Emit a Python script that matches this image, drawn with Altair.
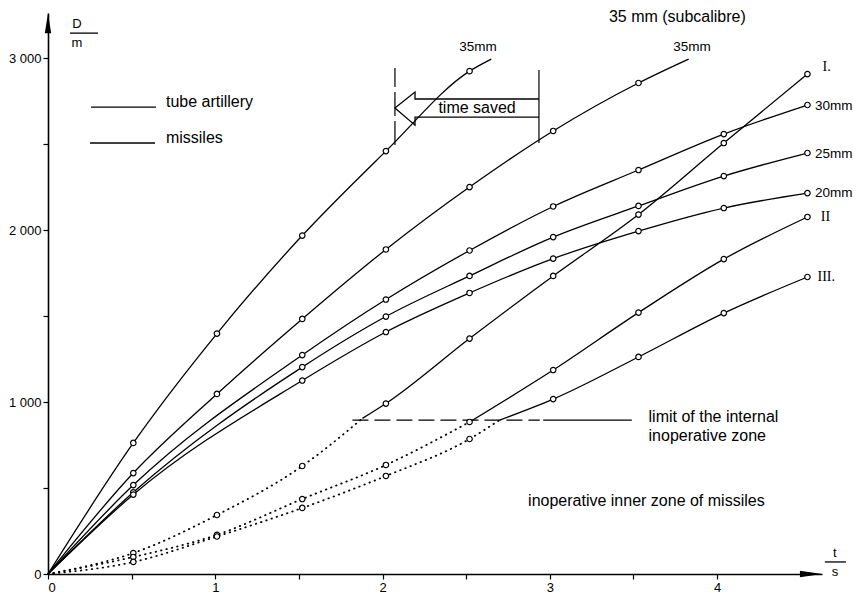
import altair as alt
import pandas as pd

FONT = "Liberation Sans"
SERIF = "Liberation Serif"

# ---------------- data ----------------
# tube artillery (t in s, D in m); marker 1 = drawn circle
T_S35 = [0, 0.51, 1.01, 1.52, 2.02, 2.52, 2.65]
D_S35 = [0, 762, 1398, 1968, 2459, 2924, 2994]
M_S35 = [0, 1, 1, 1, 1, 1, 0]

T_35 = [0, 0.51, 1.01, 1.52, 2.02, 2.52, 3.02, 3.53, 3.83]
D_35 = [0, 587, 1047, 1483, 1887, 2250, 2576, 2855, 2994]
M_35 = [0, 1, 1, 1, 1, 1, 1, 1, 0]

T_C = [0, 0.51, 1.52, 2.02, 2.52, 3.02, 3.53, 4.04, 4.54]
D_30 = [0, 517, 1273, 1596, 1881, 2137, 2349, 2558, 2727]
D_25 = [0, 475, 1203, 1497, 1733, 1959, 2140, 2314, 2448]
D_20 = [0, 462, 1125, 1407, 1634, 1834, 1994, 2128, 2215]
M_C = [0, 1, 1, 1, 1, 1, 1, 1, 1]

# missiles: dotted part (inside inoperative zone) and solid part
T_I_DOT = [0, 0.51, 1.01, 1.52, 1.88]
D_I_DOT = [0, 122, 343, 628, 905]
M_I_DOT = [0, 1, 1, 1, 0]
T_I_SOL = [1.88, 2.02, 2.52, 3.02, 3.53, 4.04, 4.54]
D_I_SOL = [905, 991, 1369, 1733, 2090, 2506, 2907]
M_I_SOL = [0, 1, 1, 1, 1, 1, 1]

T_II_DOT = [0, 0.51, 1.01, 1.52, 2.02, 2.52]
D_II_DOT = [0, 99, 228, 436, 634, 884]
M_II_DOT = [0, 1, 1, 1, 1, 1]
T_II_SOL = [2.52, 3.02, 3.53, 4.04, 4.54]
D_II_SOL = [884, 1186, 1520, 1831, 2076]
M_II_SOL = [0, 1, 1, 1, 1]

T_III_DOT = [0, 0.51, 1.01, 1.52, 2.02, 2.52, 2.70]
D_III_DOT = [0, 70, 218, 384, 570, 785, 895]
M_III_DOT = [0, 1, 1, 1, 1, 1, 0]
T_III_SOL = [2.70, 3.02, 3.53, 4.04, 4.54]
D_III_SOL = [895, 1017, 1262, 1517, 1727]
M_III_SOL = [0, 1, 1, 1, 1]

X_TICKS = [0, 0.5, 1, 1.5, 2, 2.5, 3, 3.5, 4]
Y_TICKS = [0, 500, 1000, 1500, 2000, 2500, 3000]

LIMIT_D = 895

series = [
    ("s35", "solid", T_S35, D_S35, M_S35),
    ("35", "solid", T_35, D_35, M_35),
    ("30", "solid", T_C, D_30, M_C),
    ("25", "solid", T_C, D_25, M_C),
    ("20", "solid", T_C, D_20, M_C),
    ("I_dot", "dotted", T_I_DOT, D_I_DOT, M_I_DOT),
    ("I_sol", "solid", T_I_SOL, D_I_SOL, M_I_SOL),
    ("II_dot", "dotted", T_II_DOT, D_II_DOT, M_II_DOT),
    ("II_sol", "solid", T_II_SOL, D_II_SOL, M_II_SOL),
    ("III_dot", "dotted", T_III_DOT, D_III_DOT, M_III_DOT),
    ("III_sol", "solid", T_III_SOL, D_III_SOL, M_III_SOL),
]
rows = []
for name, style, ts, ds, ms in series:
    for i, (t, d, m) in enumerate(zip(ts, ds, ms)):
        rows.append({"series": name, "style": style, "t": t, "d": d, "m": m, "i": i})
df = pd.DataFrame(rows)

XS = alt.Scale(domain=[0, 4.627], nice=False)
YS = alt.Scale(domain=[0, 3262], nice=False)

X_AXIS = alt.Axis(
    title=None, values=X_TICKS, grid=False,
    labelExpr="datum.value % 1 == 0 ? format(datum.value, 'd') : ''",
    domainColor="black", domainWidth=1.6, tickColor="black", tickWidth=1.2,
    tickSize=5, labelPadding=2, labelFont=FONT, labelFontSize=13, labelColor="black")
Y_AXIS = alt.Axis(
    title=None, values=Y_TICKS, grid=False,
    labelExpr="datum.value % 1000 == 0 ? replace(format(datum.value, ','), ',', ' ') : ''",
    domainColor="black", domainWidth=1.6, tickColor="black", tickWidth=1.2,
    tickSize=5, labelPadding=2, labelFont=FONT, labelFontSize=13, labelColor="black")


def X(field="t"):
    return alt.X(field, type="quantitative", scale=XS, axis=X_AXIS)


def Y(field="d"):
    return alt.Y(field, type="quantitative", scale=YS, axis=Y_AXIS)


base = alt.Chart(df)

solid = base.transform_filter("datum.style == 'solid'").mark_line(
    color="black", strokeWidth=1.3, interpolate="monotone"
).encode(x=X(), y=Y(), detail="series:N", order="i:Q")

dotted = base.transform_filter("datum.style == 'dotted'").mark_line(
    color="black", strokeWidth=1.8, strokeDash=[0.5, 5], strokeCap="round", interpolate="monotone"
).encode(x=X(), y=Y(), detail="series:N", order="i:Q")

circles = base.transform_filter("datum.m == 1").mark_point(
    shape="circle", size=30, filled=False, fill="white", fillOpacity=1, color="black", strokeWidth=1.2, opacity=1
).encode(x=X(), y=Y())

# limit of internal inoperative zone
limit_df = pd.DataFrame([
    {"t": 1.82, "t2": 2.94, "d": LIMIT_D, "k": "dash"},
    {"t": 2.96, "t2": 3.49, "d": LIMIT_D, "k": "solid"},
])
limit_dash = alt.Chart(limit_df).transform_filter("datum.k == 'dash'").mark_rule(
    color="black", strokeWidth=1.3, strokeDash=[16, 6]
).encode(x=X(), x2="t2:Q", y=Y())
limit_sol = alt.Chart(limit_df).transform_filter("datum.k == 'solid'").mark_rule(
    color="black", strokeWidth=1.3
).encode(x=X(), x2="t2:Q", y=Y())

# "time saved" arrow
arrow_area_df = pd.DataFrame({
    "t": [2.074, 2.194, 2.194, 2.935],
    "d": [2709, 2802, 2762, 2762],
    "d2": [2709, 2610, 2657, 2657],
    "i": [0, 1, 2, 3],
})
arrow_fill = alt.Chart(arrow_area_df).mark_area(color="white", opacity=1).encode(
    x=X(), y=Y(), y2="d2:Q", order="i:Q")
arrow_outline_df = pd.DataFrame({
    "t": [2.935, 2.194, 2.194, 2.074, 2.194, 2.194, 2.935],
    "d": [2762, 2762, 2802, 2709, 2610, 2657, 2657],
    "i": [0, 1, 2, 3, 4, 5, 6],
})
arrow_outline = alt.Chart(arrow_outline_df).mark_line(color="black", strokeWidth=1.3).encode(
    x=X(), y=Y(), order="i:Q")
vlines_df = pd.DataFrame([
    {"t": 2.074, "d": 2494, "d2": 2942, "k": "l"},
    {"t": 2.935, "d": 2506, "d2": 2930, "k": "r"},
])
vline_l = alt.Chart(vlines_df).transform_filter("datum.k == 'l'").mark_rule(
    color="black", strokeWidth=1.2, strokeDash=[24, 5]).encode(x=X(), y=Y(), y2="d2:Q")
vline_r = alt.Chart(vlines_df).transform_filter("datum.k == 'r'").mark_rule(
    color="black", strokeWidth=1.2).encode(x=X(), y=Y(), y2="d2:Q")

# legend lines, fraction bars
rules_df = pd.DataFrame([
    {"t": 0.257, "t2": 0.646, "d": 2715},
    {"t": 0.251, "t2": 0.640, "d": 2506},
    {"t": 0.131, "t2": 0.299, "d": 3145},
    {"t": 4.644, "t2": 4.770, "d": 70},
])
rules = alt.Chart(rules_df).mark_rule(color="black", strokeWidth=1.3).encode(
    x=X(), x2="t2:Q", y=Y())

# axis arrowheads
heads_df = pd.DataFrame([
    {"t": 0, "d": 3203, "k": "up"},
    {"t": 4.561, "d": 0, "k": "right"},
])
head_up = alt.Chart(heads_df).transform_filter("datum.k == 'up'").mark_point(
    shape="M0,-1L0.32,1L-0.32,1Z", size=400, filled=True, color="black", opacity=1
).encode(x=X(), y=Y())
head_right = alt.Chart(heads_df).transform_filter("datum.k == 'right'").mark_point(
    shape="M1,0L-1,-0.3L-1,0.3Z", size=484, filled=True, color="black", opacity=1
).encode(x=X(), y=Y())

# texts
left_texts = pd.DataFrame([
    {"t": 0.705, "d": 2744, "text": "tube artillery", "s": 16},
    {"t": 0.705, "d": 2535, "text": "missiles", "s": 16},
    {"t": 3.353, "d": 3236, "text": "35 mm (subcalibre)", "s": 16},
    {"t": 4.585, "d": 2721, "text": "30mm", "s": 13.5},
    {"t": 4.585, "d": 2442, "text": "25mm", "s": 13.5},
    {"t": 4.585, "d": 2215, "text": "20mm", "s": 13.5},
    {"t": 3.59, "d": 913, "text": "limit of the internal", "s": 16},
    {"t": 3.59, "d": 802, "text": "inoperative zone", "s": 16},
    {"t": 2.87, "d": 424, "text": "inoperative inner zone of missiles", "s": 16},
])
roman_texts = pd.DataFrame([
    {"t": 4.63, "d": 2948, "text": "I.", "s": 14},
    {"t": 4.62, "d": 2076, "text": "II", "s": 14},
    {"t": 4.60, "d": 1727, "text": "III.", "s": 14},
])
center_texts = pd.DataFrame([
    {"t": 2.57, "d": 3064, "text": "35mm", "s": 13.5},
    {"t": 3.85, "d": 3064, "text": "35mm", "s": 13.5},
    {"t": 2.565, "d": 2709, "text": "time saved", "s": 16},
    {"t": 0.173, "d": 3198, "text": "D", "s": 13},
    {"t": 0.173, "d": 3090, "text": "m", "s": 13},
    {"t": 4.704, "d": 122, "text": "t", "s": 13},
    {"t": 4.704, "d": 12, "text": "s", "s": 13},
])
txt_left = alt.Chart(left_texts).mark_text(
    align="left", baseline="middle", font=FONT, color="black"
).encode(x=X(), y=Y(), text="text:N", size=alt.Size("s:Q", scale=None, legend=None))
txt_roman = alt.Chart(roman_texts).mark_text(
    align="left", baseline="middle", font=SERIF, color="black"
).encode(x=X(), y=Y(), text="text:N", size=alt.Size("s:Q", scale=None, legend=None))
txt_center = alt.Chart(center_texts).mark_text(
    align="center", baseline="middle", font=FONT, color="black"
).encode(x=X(), y=Y(), text="text:N", size=alt.Size("s:Q", scale=None, legend=None))

chart = alt.layer(
    solid, dotted, limit_dash, limit_sol, circles,
    arrow_fill, arrow_outline, vline_l, vline_r,
    rules, head_up, head_right, txt_left, txt_roman, txt_center,
).properties(
    width=774, height=561,
    autosize=alt.AutoSizeParams(type="none"),
    padding={"left": 40, "top": 5, "right": 31, "bottom": 20},
    background="white",
).configure_view(strokeWidth=0)

chart.save("out.html", embed_options={"renderer": "svg", "actions": False})
